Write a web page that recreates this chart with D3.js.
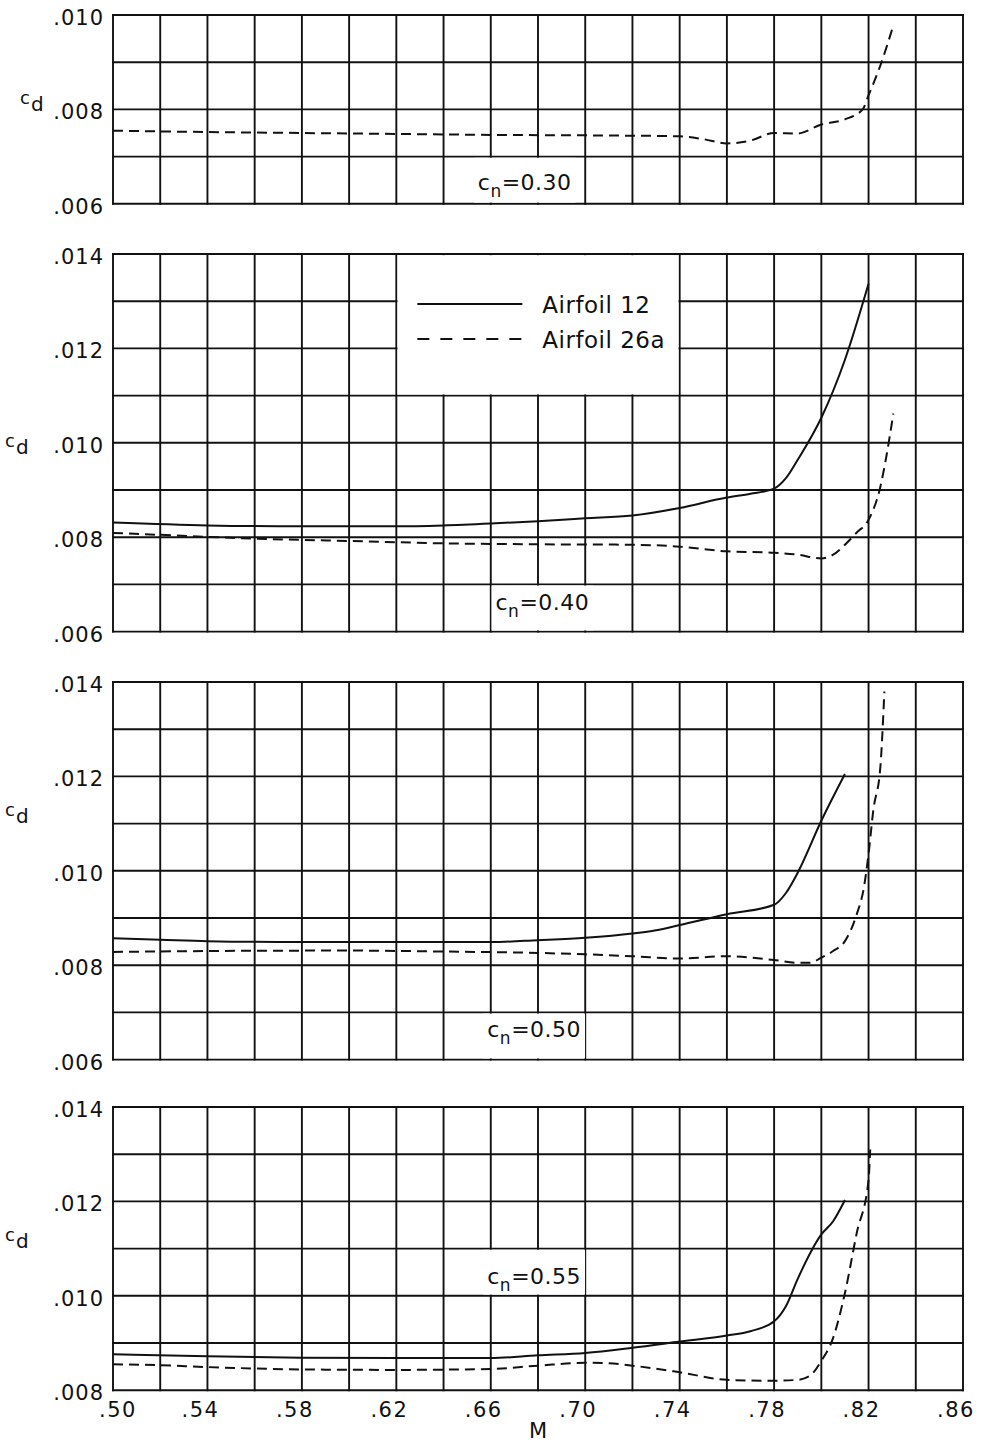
<!DOCTYPE html>
<html>
<head>
<meta charset="utf-8">
<script src="https://cdn.jsdelivr.net/npm/d3@7"></script>
<style>
  body { margin: 0; background: #fff; }
  svg { display: block; }
  text { font-family: "DejaVu Sans", sans-serif; fill: #111; }
</style>
</head>
<body>
<div id="chart"></div>
<script>
// Mach number axis
const machGrid = d3.range(0.50, 0.8601, 0.02);
const machTickValues = [0.50, 0.54, 0.58, 0.62, 0.66, 0.70, 0.74, 0.78, 0.82, 0.86];
const machTickLabels = [".50", ".54", ".58", ".62", ".66", ".70", ".74", ".78", ".82", ".86"];

// c_n = 0.30 — Airfoil 26a only
const m30_26a  = [0.50, 0.54, 0.58, 0.62, 0.66, 0.70, 0.74, 0.75, 0.76, 0.77, 0.78, 0.79, 0.80, 0.81, 0.8175, 0.82, 0.825, 0.8305];
const cd30_26a = [0.00755, 0.00752, 0.00750, 0.00748, 0.00746, 0.00745, 0.00743, 0.00737, 0.00728, 0.00734, 0.00750, 0.00749, 0.00768, 0.00779, 0.00800, 0.00830, 0.00893, 0.00978];

// c_n = 0.40
const m40_12   = [0.50, 0.54, 0.58, 0.62, 0.64, 0.66, 0.68, 0.70, 0.72, 0.74, 0.76, 0.77, 0.78, 0.785, 0.79, 0.80, 0.81, 0.82];
const cd40_12  = [0.00831, 0.00825, 0.00823, 0.00823, 0.00825, 0.00829, 0.00834, 0.00840, 0.00846, 0.00862, 0.00884, 0.00892, 0.00903, 0.00925, 0.00964, 0.01053, 0.01176, 0.01337];
const m40_26a  = [0.50, 0.52, 0.56, 0.60, 0.64, 0.68, 0.72, 0.74, 0.76, 0.78, 0.79, 0.80, 0.805, 0.81, 0.815, 0.82, 0.825, 0.8275, 0.8305];
const cd40_26a = [0.00809, 0.00805, 0.00797, 0.00792, 0.00787, 0.00785, 0.00784, 0.00780, 0.00770, 0.00767, 0.00763, 0.00755, 0.00763, 0.00784, 0.00810, 0.00837, 0.00907, 0.00970, 0.01062];

// c_n = 0.50
const m50_12   = [0.50, 0.52, 0.54, 0.58, 0.62, 0.66, 0.68, 0.70, 0.72, 0.73, 0.74, 0.76, 0.78, 0.785, 0.79, 0.80, 0.81];
const cd50_12  = [0.00857, 0.00854, 0.00851, 0.00849, 0.00849, 0.00849, 0.00853, 0.00858, 0.00867, 0.00874, 0.00885, 0.00908, 0.00928, 0.00953, 0.00996, 0.01106, 0.01205];
const m50_26a  = [0.50, 0.54, 0.60, 0.64, 0.68, 0.70, 0.72, 0.74, 0.76, 0.78, 0.79, 0.795, 0.80, 0.805, 0.81, 0.815, 0.818, 0.82, 0.822, 0.825, 0.8267];
const cd50_26a = [0.00828, 0.00830, 0.00831, 0.00829, 0.00826, 0.00823, 0.00819, 0.00814, 0.00819, 0.00811, 0.00805, 0.00805, 0.00816, 0.00830, 0.00851, 0.00908, 0.00964, 0.01036, 0.01128, 0.01220, 0.01380];

// c_n = 0.55
const m55_12   = [0.50, 0.54, 0.58, 0.62, 0.66, 0.68, 0.70, 0.72, 0.74, 0.76, 0.77, 0.78, 0.785, 0.79, 0.80, 0.805, 0.81];
const cd55_12  = [0.00876, 0.00872, 0.00869, 0.00868, 0.00868, 0.00874, 0.00879, 0.00890, 0.00903, 0.00916, 0.00925, 0.00946, 0.00978, 0.01036, 0.01130, 0.01158, 0.01203];
const m55_26a  = [0.50, 0.52, 0.54, 0.56, 0.58, 0.62, 0.66, 0.68, 0.70, 0.71, 0.72, 0.74, 0.76, 0.78, 0.79, 0.795, 0.80, 0.805, 0.81, 0.815, 0.82, 0.8207];
const cd55_26a = [0.00855, 0.00853, 0.00849, 0.00846, 0.00844, 0.00843, 0.00845, 0.00852, 0.00858, 0.00857, 0.00852, 0.00838, 0.00822, 0.00820, 0.00822, 0.00830, 0.00862, 0.00911, 0.01006, 0.01133, 0.01246, 0.01310];

const legendNames = ["Airfoil 12", "Airfoil 26a"];

// Panel layout
const W = 984, H = 1442;
const ROW = 47.2;              // pixels per 0.001 of c_d (and per 0.02 of M)
const x = d3.scaleLinear().domain([0.50, 0.86]).range([113, 963]);

const panels = [
  { cn: "0.30", lo: 0.006, hi: 0.010, top: 15,
    series: [{ M: m30_26a, cd: cd30_26a, dashed: true }],
    label: { M: 0.6545, cd: 0.00630, boxHi: 0.007, boxLo: 0.006 },
    cdLabel: { x: 20, at: 0.008, dy: -5 } },
  { cn: "0.40", lo: 0.006, hi: 0.014, top: 254,
    series: [{ M: m40_12, cd: cd40_12, dashed: false }, { M: m40_26a, cd: cd40_26a, dashed: true }],
    label: { M: 0.6620, cd: 0.00646, boxHi: 0.007, boxLo: 0.006 },
    cdLabel: { x: 5, at: 0.010, dy: 4 }, legend: true },
  { cn: "0.50", lo: 0.006, hi: 0.014, top: 682,
    series: [{ M: m50_12, cd: cd50_12, dashed: false }, { M: m50_26a, cd: cd50_26a, dashed: true }],
    label: { M: 0.6585, cd: 0.00648, boxHi: 0.007, boxLo: 0.006 },
    cdLabel: { x: 5, at: 0.0115, dy: 16 } },
  { cn: "0.55", lo: 0.008, hi: 0.014, top: 1107,
    series: [{ M: m55_12, cd: cd55_12, dashed: false }, { M: m55_26a, cd: cd55_26a, dashed: true }],
    label: { M: 0.6585, cd: 0.01025, boxHi: 0.011, boxLo: 0.010 },
    cdLabel: { x: 5, at: 0.0115, dy: 16 }, xAxis: true }
];

const INK = "#111";
const svg = d3.select("#chart").append("svg").attr("width", W).attr("height", H);
svg.append("rect").attr("width", W).attr("height", H).attr("fill", "#fff");

const fmtCd = v => d3.format(".3f")(v).replace(/^0/, "");

panels.forEach(p => {
  const nRows = Math.round((p.hi - p.lo) / 0.001);
  const y = d3.scaleLinear().domain([p.lo, p.hi]).range([p.top + nRows * ROW, p.top]);
  const g = svg.append("g");
  const gridG = g.append("g");
  const boxG = g.append("g");
  const lineG = g.append("g");
  const textG = g.append("g");

  // grid: vertical every 0.02 in M, horizontal every 0.001 in c_d
  gridG.selectAll("line.v").data(machGrid).join("line")
    .attr("x1", d => x(d)).attr("x2", d => x(d))
    .attr("y1", y(p.hi)).attr("y2", y(p.lo))
    .attr("stroke", INK).attr("stroke-width", 1.9).attr("stroke-linecap", "square");
  const hVals = d3.range(0, nRows + 1).map(i => p.lo + i * 0.001);
  gridG.selectAll("line.h").data(hVals).join("line")
    .attr("x1", x(0.50)).attr("x2", x(0.86))
    .attr("y1", d => y(d)).attr("y2", d => y(d))
    .attr("stroke", INK).attr("stroke-width", 1.9).attr("stroke-linecap", "square");

  // y tick labels every 0.002
  const yTicks = d3.range(0, nRows + 1, 2).map(i => p.lo + i * 0.001);
  textG.selectAll("text.yt").data(yTicks).join("text")
    .attr("x", 104).attr("y", d => y(d) + 10)
    .attr("text-anchor", "end").attr("font-size", 21).attr("letter-spacing", 1)
    .text(fmtCd);

  // c_d axis label
  const cdT = textG.append("text")
    .attr("x", p.cdLabel.x).attr("y", y(p.cdLabel.at) + p.cdLabel.dy);
  cdT.append("tspan").attr("font-size", 18).text("c");
  cdT.append("tspan").attr("font-size", 20).attr("dy", 7).attr("dx", 1).text("d");

  // c_n label with white backing
  const lx = x(p.label.M), ly = y(p.label.cd);
  const cnT = textG.append("text").attr("x", lx).attr("y", ly)
    .attr("font-size", 22).attr("letter-spacing", 0.5);
  cnT.append("tspan").text("c");
  cnT.append("tspan").attr("font-size", 17).attr("dy", 7).text("n");
  cnT.append("tspan").attr("dy", -7).text("=" + p.cn);
  const bb = cnT.node().getBBox();
  boxG.append("rect")
    .attr("x", bb.x - 4).attr("width", bb.width + 8)
    .attr("y", y(p.label.boxHi) + 1.2).attr("height", y(p.label.boxLo) - y(p.label.boxHi) - 2.4)
    .attr("fill", "#fff");

  // curves
  const line = d3.line().x(d => x(d[0])).y(d => y(d[1])).curve(d3.curveMonotoneX);
  p.series.forEach(s => {
    lineG.append("path")
      .attr("d", line(d3.zip(s.M, s.cd)))
      .attr("fill", "none").attr("stroke", INK).attr("stroke-width", 2)
      .attr("stroke-dasharray", s.dashed ? "10,6" : null);
  });

  // legend
  if (p.legend) {
    const bx0 = x(0.62), bx1 = x(0.74), by0 = y(0.014), by1 = y(0.011);
    boxG.append("rect")
      .attr("x", bx0 + 1.2).attr("y", by0 + 1.2)
      .attr("width", bx1 - bx0 - 2.4).attr("height", by1 - by0 - 2.4)
      .attr("fill", "#fff");
    legendNames.forEach((name, i) => {
      const ly0 = by0 + 50 + i * 35;
      textG.append("line")
        .attr("x1", bx0 + 21).attr("x2", bx0 + 126)
        .attr("y1", ly0).attr("y2", ly0)
        .attr("stroke", INK).attr("stroke-width", 1.8)
        .attr("stroke-dasharray", i === 1 ? "12,11" : null);
      textG.append("text")
        .attr("x", bx0 + 146).attr("y", ly0 + 9)
        .attr("font-size", 23).attr("letter-spacing", 0.5)
        .text(name);
    });
  }

  // M axis
  if (p.xAxis) {
    textG.selectAll("text.xt").data(machTickValues).join("text")
      .attr("x", (d, i) => x(d) + (i === 0 ? 5 : -7))
      .attr("y", y(p.lo) + 27)
      .attr("text-anchor", "middle").attr("font-size", 21).attr("letter-spacing", 1.5)
      .text((d, i) => machTickLabels[i]);
    textG.append("text")
      .attr("x", x(0.68)).attr("y", y(p.lo) + 48)
      .attr("text-anchor", "middle").attr("font-size", 21)
      .text("M");
  }
});
</script>
</body>
</html>
